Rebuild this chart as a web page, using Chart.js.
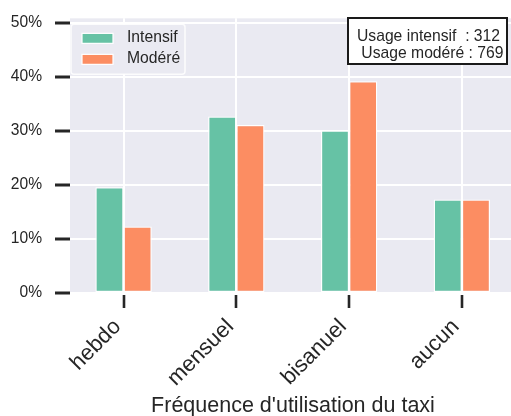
<!DOCTYPE html>
<html>
<head>
<meta charset="utf-8">
<script src="https://cdn.jsdelivr.net/npm/chart.js@4/dist/chart.umd.min.js"></script>
<style>
  html, body { margin: 0; padding: 0; background: #fff; overflow: hidden; width: 511px; height: 416px; }
  #wrap { width: 516px; height: 416px; }
</style>
</head>
<body>
<div id="wrap"><canvas id="c" width="516" height="416"></canvas></div>
<script>
const categories = ['hebdo', 'mensuel', 'bisanuel', 'aucun'];
const intensif = [19.6, 32.7, 30.1, 17.3];
const modere = [12.3, 31.1, 39.2, 17.3];
const yTicks = [0, 10, 20, 30, 40, 50];
const seriesNames = ['Intensif', 'Modéré'];
const annotationLines = ['Usage intensif  : 312', ' Usage modéré : 769'];
const xTitle = "Fréquence d'utilisation du taxi";

const FONT = "'Liberation Sans', Arial, sans-serif";
const DARK = '#262626';

const bgPlugin = {
  id: 'bg',
  beforeDraw(chart) {
    const { ctx, chartArea: a } = chart;
    ctx.save();
    ctx.fillStyle = '#EAEAF2';
    ctx.fillRect(a.left, a.top, a.right - a.left, a.bottom - a.top);
    ctx.restore();
  }
};

const overlayPlugin = {
  id: 'overlay',
  afterDraw(chart) {
    const { ctx, chartArea: a } = chart;
    ctx.save();
    // legend
    const lx = a.left + 1, ly = a.top + 6, lw = 114, lh = 50;
    ctx.fillStyle = '#EAEAF2';
    ctx.strokeStyle = 'rgba(255,255,255,0.85)';
    ctx.lineWidth = 1.5;
    ctx.beginPath();
    ctx.roundRect(lx, ly, lw, lh, 3);
    ctx.fill();
    ctx.stroke();
    chart.data.datasets.forEach((ds, i) => {
      const sy = ly + 9 + i * 21;
      ctx.fillStyle = ds.backgroundColor;
      ctx.fillRect(lx + 11, sy, 31, 10);
      ctx.strokeStyle = '#fff';
      ctx.lineWidth = 1.2;
      ctx.strokeRect(lx + 11, sy, 31, 10);
      ctx.fillStyle = DARK;
      ctx.font = '15.7px ' + FONT;
      ctx.textAlign = 'left';
      ctx.textBaseline = 'alphabetic';
      ctx.fillText(ds.label, lx + 56, sy + 9);
    });
    // annotation box
    const bx = 348, by = 18, bw = 159, bh = 46;
    ctx.fillStyle = '#fff';
    ctx.fillRect(bx, by, bw, bh);
    ctx.strokeStyle = '#1a1a1a';
    ctx.lineWidth = 2;
    ctx.strokeRect(bx, by, bw, bh);
    ctx.fillStyle = DARK;
    ctx.font = '15.7px ' + FONT;
    ctx.textAlign = 'left';
    ctx.textBaseline = 'alphabetic';
    annotationLines.forEach((t, i) => ctx.fillText(t, bx + 9, by + 23 + i * 17));
    ctx.restore();
  }
};

new Chart(document.getElementById('c'), {
  type: 'bar',
  data: {
    datasets: [
      { label: seriesNames[0], data: intensif.map((v, i) => ({ x: i, y: v })), backgroundColor: '#66c2a5', borderColor: '#ffffff', borderWidth: 1.3, borderSkipped: false },
      { label: seriesNames[1], data: modere.map((v, i) => ({ x: i, y: v })), backgroundColor: '#fc8d62', borderColor: '#ffffff', borderWidth: 1.3, borderSkipped: false }
    ]
  },
  options: {
    responsive: false,
    animation: false,
    devicePixelRatio: 1,
    categoryPercentage: 0.5,
    barPercentage: 1.0,
    layout: { padding: { top: 12, right: 0, left: 0, bottom: 0 } },
    plugins: { legend: { display: false }, tooltip: { enabled: false } },
    scales: {
      x: {
        type: 'linear',
        min: -0.475,
        max: 3.48,
        offset: false,
        grid: { offset: false, color: '#ffffff', lineWidth: 2, drawTicks: true, tickLength: 15, tickColor: DARK, tickWidth: 2.6, tickBorderDash: [0, 2, 13, 1000] },
        border: { display: false },
        afterBuildTicks: s => { s.ticks = categories.map((_, i) => ({ value: i })); },
        afterFit: s => { s.height = 123; },
        ticks: {
          autoSkip: false, minRotation: 45, maxRotation: 45, padding: 6, labelOffset: -6,
          color: DARK, font: { family: FONT, size: 22 },
          callback: v => categories[v]
        },
        title: { display: true, text: xTitle, color: DARK, font: { family: FONT, size: 21.5, lineHeight: 0.95 }, padding: { top: 0, bottom: 0 } }
      },
      y: {
        min: 0,
        max: 50.85,
        grid: { color: '#ffffff', lineWidth: 2, drawTicks: true, tickLength: 19, tickColor: DARK, tickWidth: 3, tickBorderDash: [0, 4, 15, 1000] },
        border: { display: false },
        afterBuildTicks: s => { s.ticks = yTicks.map(v => ({ value: v })); },
        afterFit: s => { s.width = 70; },
        ticks: { padding: 9, color: DARK, font: { family: FONT, size: 15.6 }, callback: v => v + '%' }
      }
    }
  },
  plugins: [bgPlugin, overlayPlugin]
});
</script>
</body>
</html>
